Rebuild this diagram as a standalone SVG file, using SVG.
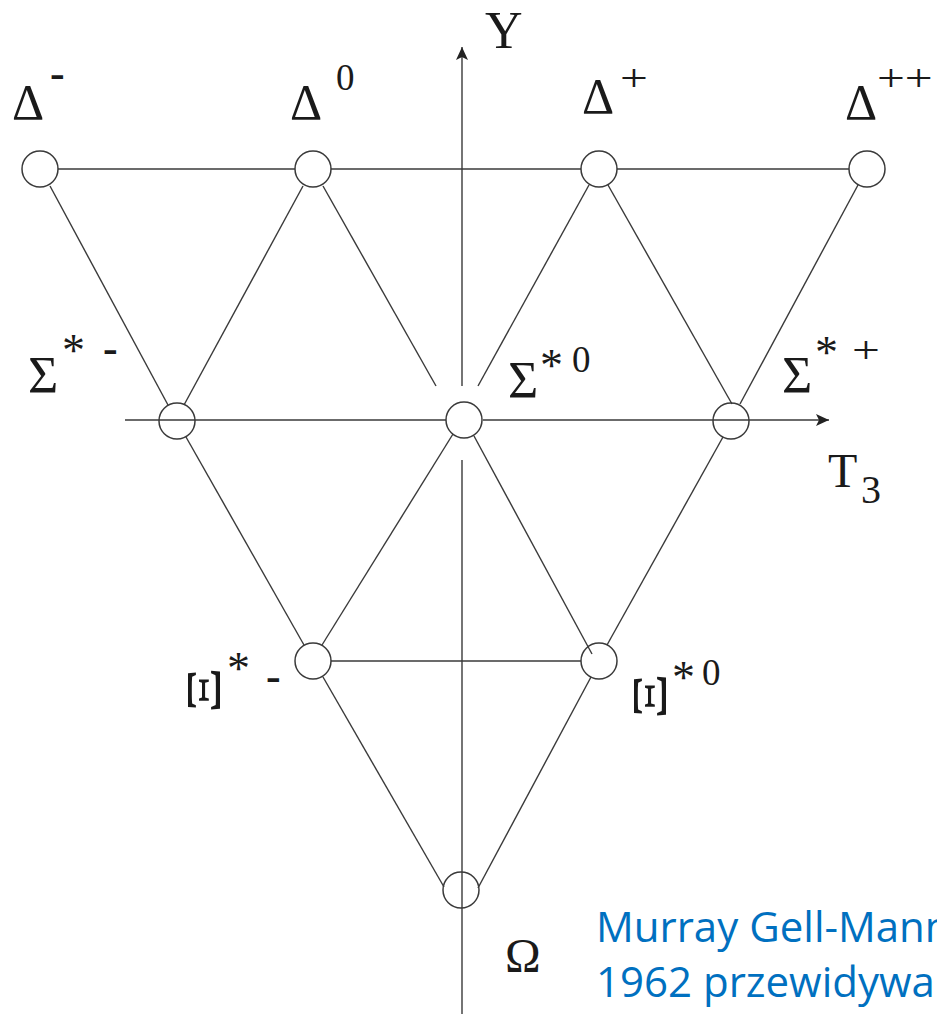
<svg xmlns="http://www.w3.org/2000/svg" width="937" height="1014" viewBox="0 0 937 1014">
<defs>
<style>
.ln{stroke:#3a3a3a;stroke-width:1.4;fill:none;stroke-linecap:butt}
.nd{fill:none;stroke:#3a3a3a;stroke-width:1.5}
.sy{font-family:"Liberation Serif","Times New Roman",serif;fill:#1a1a1a}
.g{font-size:50px}
.s{font-size:52px}
.sup{font-size:37px}
.ast{font-size:46px}
.dash{font-size:44px;font-weight:bold}
.pl{font-size:38px}
.xi{font-size:48px}
.note{font-family:"Open Sans","Noto Sans",sans-serif;font-size:42px;fill:#0070C0}
</style>
<marker id="arr" markerUnits="userSpaceOnUse" markerWidth="14" markerHeight="14" refX="13" refY="6" orient="auto">
<path d="M0,0 L13,6 L0,12 L3,6 Z" fill="#222"/>
</marker>
</defs>
<rect width="937" height="1014" fill="#fff"/>

<g id="connectors">
<line class="ln" x1="58" y1="169" x2="295" y2="169"/>
<line class="ln" x1="331" y1="169" x2="581" y2="169"/>
<line class="ln" x1="617" y1="169" x2="849" y2="169"/>
<line class="ln" x1="50" y1="186" x2="168" y2="405"/>
<line class="ln" x1="303" y1="186" x2="184" y2="405"/>
<line class="ln" x1="323" y1="186" x2="436" y2="386"/>
<line class="ln" x1="589" y1="185" x2="478" y2="386"/>
<line class="ln" x1="608" y1="185" x2="732" y2="404"/>
<line class="ln" x1="858" y1="185" x2="740" y2="404"/>
<line class="ln" x1="186" y1="437" x2="304" y2="645"/>
<line class="ln" x1="453" y1="434" x2="322" y2="645"/>
<line class="ln" x1="474" y1="436" x2="592" y2="654"/>
<line class="ln" x1="723" y1="437" x2="607" y2="645"/>
<line class="ln" x1="331" y1="661" x2="581" y2="661"/>
<line class="ln" x1="323" y1="677" x2="444" y2="887"/>
<line class="ln" x1="591" y1="677" x2="478" y2="888"/>
</g>

<g id="axis-Y">
<line class="ln" x1="462" y1="1014" x2="462" y2="460"/>
<line class="ln" x1="462" y1="386" x2="462" y2="47" marker-end="url(#arr)"/>
<text class="sy" x="485" y="48" font-size="52">Y</text>
</g>

<g id="axis-T3">
<line class="ln" x1="125" y1="420" x2="446" y2="420"/>
<line class="ln" x1="483" y1="420" x2="829" y2="420" marker-end="url(#arr)"/>
<text class="sy" x="828" y="487" font-size="48">T</text>
<text class="sy" x="861" y="503" font-size="40">3</text>
</g>

<g id="delta-minus">
<circle class="nd" cx="40" cy="169" r="18"/>
<text class="sy g" x="12" y="119">Δ</text>
<text class="sy dash" x="50" y="88">-</text>
</g>

<g id="delta-0">
<circle class="nd" cx="313" cy="169" r="18"/>
<text class="sy g" x="290" y="119">Δ</text>
<text class="sy sup" x="336" y="90">0</text>
</g>

<g id="delta-plus">
<circle class="nd" cx="599" cy="169" r="18"/>
<text class="sy g" x="582" y="113">Δ</text>
<text class="sy pl" transform="translate(620,91) scale(1.3,1)">+</text>
</g>

<g id="delta-plusplus">
<circle class="nd" cx="867" cy="169" r="18"/>
<text class="sy g" x="845" y="119">Δ</text>
<text class="sy pl" transform="translate(877,91) scale(1.3,1)">++</text>
</g>

<g id="sigma-minus">
<circle class="nd" cx="177" cy="421" r="18"/>
<text class="sy s" x="28" y="393">Σ</text>
<text class="sy ast" x="62" y="366">*</text>
<text class="sy dash" x="103" y="363">-</text>
</g>

<g id="sigma-0">
<circle class="nd" cx="464" cy="420" r="18"/>
<text class="sy s" x="508" y="398">Σ</text>
<text class="sy ast" x="540" y="381">*</text>
<text class="sy sup" x="572" y="372">0</text>
</g>

<g id="sigma-plus">
<circle class="nd" cx="731" cy="421" r="18"/>
<text class="sy s" x="782" y="393">Σ</text>
<text class="sy ast" x="815" y="368">*</text>
<text class="sy pl" transform="translate(852,363) scale(1.3,1)">+</text>
</g>

<g id="xi-minus">
<circle class="nd" cx="313" cy="661" r="18"/>
<text class="sy xi" text-anchor="middle" transform="translate(204,690) rotate(-90) scale(1.5,1)" x="0" y="16">Ξ</text>
<text class="sy ast" x="227" y="684">*</text>
<text class="sy dash" x="266" y="691">-</text>
</g>

<g id="xi-0">
<circle class="nd" cx="599" cy="661" r="18"/>
<text class="sy xi" text-anchor="middle" transform="translate(650,696) rotate(-90) scale(1.5,1)" x="0" y="16">Ξ</text>
<text class="sy ast" x="672" y="693">*</text>
<text class="sy sup" x="702" y="685">0</text>
</g>

<g id="omega">
<circle class="nd" cx="461" cy="890" r="18"/>
<text class="sy" font-size="48" x="505" y="972">Ω</text>
</g>

<g id="note">
<text class="note" x="596" y="942">Murray Gell-Mann</text>
<text class="note" x="596" y="997">1962 przewidywa</text>
</g>
</svg>
